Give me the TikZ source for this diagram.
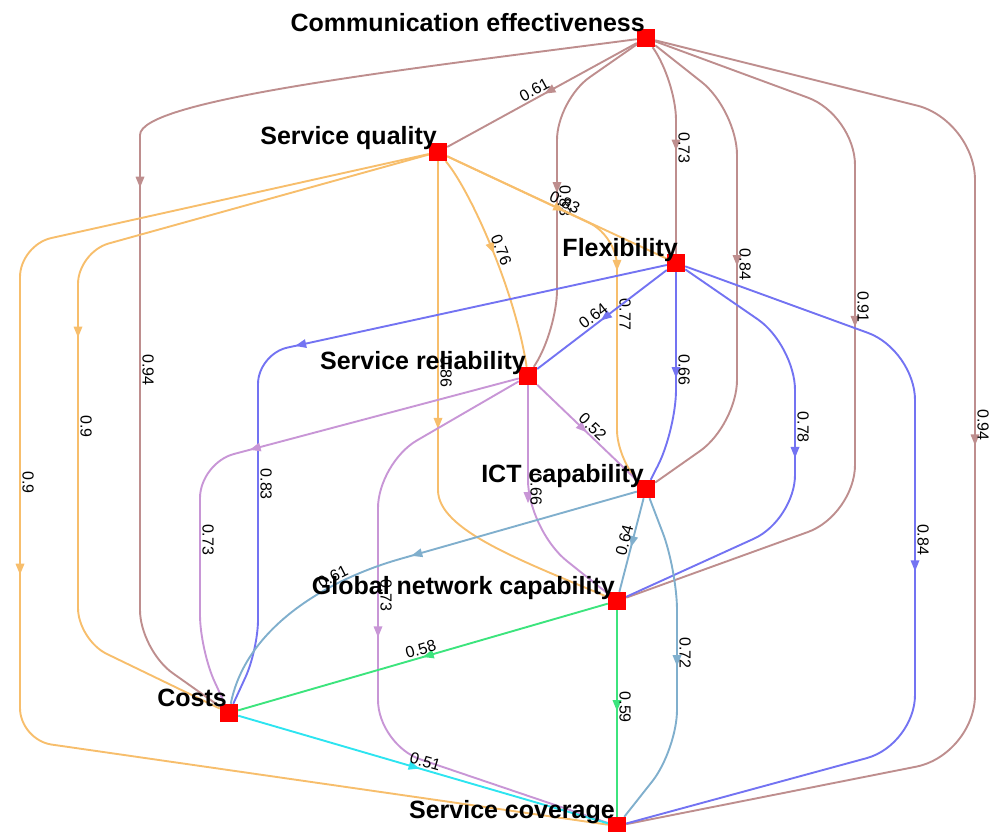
\documentclass[tikz,border=0pt]{standalone}
\usepackage{fontspec}
\setmainfont{Liberation Sans}
\usetikzlibrary{shapes.geometric}
\pgfdeclarelayer{bg}
\pgfsetlayers{bg,main}
\definecolor{brC}{RGB}{190,142,142}
\definecolor{orC}{RGB}{247,190,108}
\definecolor{blC}{RGB}{115,115,242}
\definecolor{puC}{RGB}{200,150,214}
\definecolor{stC}{RGB}{128,175,205}
\definecolor{grC}{RGB}{60,228,125}
\definecolor{cyC}{RGB}{45,228,240}
\definecolor{ndC}{RGB}{255,0,0}
\tikzset{
  e/.style={line width=1.9pt, draw=#1},
  arr/.style={sharp corners, sloped, allow upside down, isosceles triangle, isosceles triangle apex angle=45,
    fill=#1, draw=none, inner sep=0pt, minimum size=9pt},
  elab/.style={sharp corners, sloped, font=\fontsize{16}{16}\selectfont, inner sep=1.5pt, text=black},
  nd/.style={rectangle, fill=ndC, draw=none, minimum size=18pt, inner sep=0pt},
  nlab/.style={font=\fontsize{25}{25}\selectfont\bfseries, anchor=base east, inner sep=0pt}
}
\begin{document}
\begin{tikzpicture}[x=1pt,y=-1pt]
\useasboundingbox (0,0) rectangle (999,832);
% nodes
\node[nd] (CE) at (646,38) {};
\node[nd] (SQ) at (438,152) {};
\node[nd] (FL) at (676,263) {};
\node[nd] (SR) at (528,376) {};
\node[nd] (ICT) at (646,489) {};
\node[nd] (GN) at (617,601) {};
\node[nd] (CO) at (229,713) {};
\node[nd] (SC) at (617,826) {};
% node labels
\node[nlab] (CEt) at (645,32) {Communication effectiveness};
\node[nlab] (SQt) at (437,145) {Service quality};
\node[nlab] (FLt) at (678,256) {Flexibility};
\node[nlab] (SRt) at (526,369) {Service reliability};
\node[nlab] (ICTt) at (644,482) {ICT capability};
\node[nlab] (GNt) at (615,594) {Global network capability};
\node[nlab] (COt) at (227,706) {Costs};
\node[nlab] (SCt) at (615,818) {Service coverage};
\begin{pgfonlayer}{bg}
% from Communication effectiveness
\draw[e=brC] (CE) -- node[arr=brC,pos=.45]{} node[elab,above,pos=.52]{0.61} (SQ);
\draw[e=brC,rounded corners=40pt] (CE) .. controls (400,70) and (140,100) .. (140,175) -- node[arr=brC,pos=.01]{} node[elab,above,pos=.41]{0.94} (140,650) -- (CO);
\draw[e=brC,rounded corners=40pt] (CE) -- (557,100) -- node[arr=brC,pos=.37]{} node[elab,above,pos=.44]{0.83} (557,330) -- (SR);
\draw[e=brC,rounded corners=40pt] (CE) -- (676,80) -- node[arr=brC,pos=.36]{} node[elab,above,pos=.39]{0.73} (FL);
\draw[e=brC,rounded corners=45pt] (CE) -- (737,110) -- node[arr=brC,pos=.47]{} node[elab,above,pos=.49]{0.84} (737,425) -- (ICT);
\draw[e=brC,rounded corners=50pt] (CE) -- (855,115) -- node[arr=brC,pos=.51]{} node[elab,above,pos=.48]{0.91} (855,515) -- (GN);
\draw[e=brC,rounded corners=60pt] (CE) -- (975,120) -- node[arr=brC,pos=.5]{} node[elab,above,pos=.48]{0.94} (975,755) -- (SC);
% from Service quality
\draw[e=orC] (SQ) -- node[arr=orC,pos=.5]{} node[elab,above,pos=.52]{0.83} (FL);
\draw[e=orC,rounded corners=30pt] (SQ) -- (617,236) -- node[arr=orC,pos=.12]{} node[elab,above,pos=.35]{0.77} (617,460) -- (ICT);
\draw[e=orC] (SQ) .. controls (470,190) and (515,290) .. node[arr=orC,pos=.5]{} node[elab,above,pos=.53]{0.76} (SR);
\draw[e=orC] (SQ) -- node[arr=orC,pos=.79]{} node[elab,above,pos=.64]{0.86} (438,490) .. controls (438,530) and (520,560) .. (GN);
\draw[e=orC,rounded corners=32pt] (SQ) -- (78,252) -- node[arr=orC,pos=.2]{} node[elab,above,pos=.45]{0.9} (78,640) -- (CO);
\draw[e=orC,rounded corners=32pt] (SQ) -- (20,245) -- node[arr=orC,pos=.65]{} node[elab,above,pos=.48]{0.9} (20,740) -- (SC);
% from Flexibility
\draw[e=blC,rounded corners=30pt] (FL) -- node[arr=blC,pos=.89]{} (258,354) -- node[elab,above,pos=.44]{0.83} (258,650) -- (CO);
\draw[e=blC] (FL) -- node[arr=blC,pos=.46]{} node[elab,above,pos=.53]{0.64} (SR);
\draw[e=blC,rounded corners=40pt] (FL) -- node[arr=blC,pos=.62]{} node[elab,above,pos=.62]{0.66} (676,430) -- (ICT);
\draw[e=blC,rounded corners=45pt] (FL) -- (795,345) -- node[arr=blC,pos=.6]{} node[elab,above,pos=.47]{0.78} (795,520) -- (GN);
\draw[e=blC,rounded corners=50pt] (FL) -- (915,350) -- node[arr=blC,pos=.54]{} node[elab,above,pos=.48]{0.84} (915,745) -- (SC);
% from Service reliability
\draw[e=puC,rounded corners=35pt] (SR) -- node[arr=puC,pos=.82]{} (200,463) -- node[elab,above,pos=.41]{0.73} (200,650) -- (CO);
\draw[e=puC,rounded corners=45pt] (SR) -- (378,463) -- node[arr=puC,pos=.59]{} node[elab,above,pos=.47]{0.73} (378,745) -- (SC);
\draw[e=puC] (SR) -- node[arr=puC,pos=.44]{} node[elab,above,pos=.5]{0.52} (ICT);
\draw[e=puC,rounded corners=50pt] (SR) -- node[arr=puC,pos=.76]{} node[elab,above,pos=.72]{0.66} (528,530) -- (GN);
% from ICT capability
\draw[e=stC] (ICT) -- node[arr=stC,pos=.92]{} (400,559) .. controls (323,581) and (245,630) .. node[elab,above,pos=.28]{0.61} (CO);
\draw[e=stC] (ICT) -- node[arr=stC,pos=.44]{} node[elab,above,pos=.47]{0.64} (GN);
\draw[e=stC,rounded corners=40pt] (ICT) -- (677,570) -- node[arr=stC,pos=.49]{} node[elab,above,pos=.46]{0.72} (677,750) -- (SC);
% from Global network capability
\draw[e=grC] (GN) -- node[arr=grC,pos=.48]{} node[elab,above,pos=.5]{0.58} (CO);
\draw[e=grC] (GN) -- node[arr=grC,pos=.45]{} node[elab,above,pos=.47]{0.59} (SC);
% from Costs
\draw[e=cyC] (CO) -- node[arr=cyC,pos=.47]{} node[elab,above,pos=.5]{0.51} (SC);
\end{pgfonlayer}
\end{tikzpicture}
\end{document}
